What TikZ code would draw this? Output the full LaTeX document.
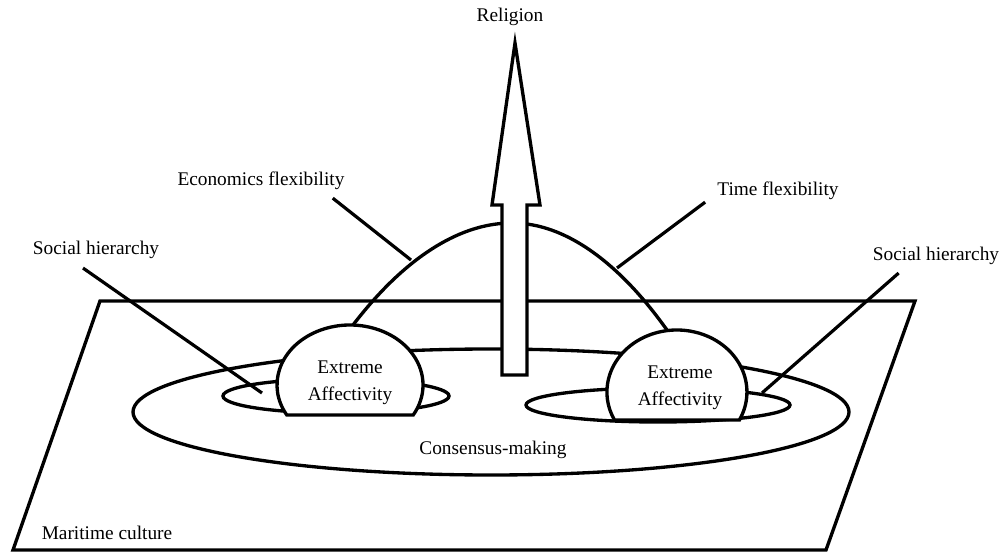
\documentclass[tikz,border=0pt]{standalone}
\usepackage{fontspec}
\setmainfont{Liberation Serif}
\definecolor{inkLine}{HTML}{000000}
\definecolor{paperWhite}{HTML}{FFFFFF}
\usepackage{tikz}
\usetikzlibrary{calc, positioning}

\tikzset{
  outline/.style={draw=inkLine, line width=2.5pt},
  pointer/.style={draw=inkLine, line width=2.4pt},
  labelText/.style={font=\fontsize{14.5}{17}\selectfont, text=inkLine, inner sep=0pt},
  domeText/.style={font=\fontsize{14.5}{20}\selectfont, text=inkLine, inner sep=0pt, align=center}
}

\begin{document}
\begin{tikzpicture}[x=0.75pt, y=-0.75pt]
  \useasboundingbox[fill=paperWhite] (0,0) rectangle (1007,552);

  % ground plane and rings
  \draw[outline, line join=miter] (100,301) -- (915,301) -- (826,550) -- (13,550) -- cycle;
  \draw[outline] (491,412) ellipse[x radius=358, y radius=63];
  \draw[outline] (336,396) ellipse[x radius=113, y radius=17];
  \draw[outline] (658,405) ellipse[x radius=132, y radius=17];

  % labels
  \node[labelText] (religion) at (510,17) {Religion};
  \node[labelText] (econFlex) at (261,181) {Economics flexibility};
  \node[labelText] (timeFlex) at (778,191) {Time flexibility};
  \node[labelText] (socialLeft) at (96,250) {Social hierarchy};
  \node[labelText] (socialRight) at (936,256) {Social hierarchy};
  \node[labelText] (consensus) at (493,450) {Consensus-making};
  \node[labelText] (maritime) at (107,533) {Maritime culture};

  \coordinate (socialLeftTip) at (262,393);
  \coordinate (econTip) at (411,260);
  \coordinate (timeTip) at (617,268);
  \coordinate (socialRightTip) at (762,393);

  \draw[pointer] ($(socialLeft.south)+(-13,9)$) -- (socialLeftTip);
  \draw[pointer] ($(econFlex.south east)+(-12,8)$) -- (econTip);
  \draw[pointer] ($(timeFlex.south west)+(-12,2)$) -- (timeTip);
  \draw[pointer] ($(socialRight.south west)+(26,8)$) -- (socialRightTip);

  % arch over the two domes
  \draw[outline] (353,325) parabola bend (512,223) (667,330);

  % domes
  \draw[outline, fill=paperWhite] (286.8,415) arc[start angle=150, end angle=390, x radius=73, y radius=60] -- cycle;
  \draw[outline, fill=paperWhite] (614.5,420) arc[start angle=153.15, end angle=386.85, x radius=70, y radius=62] -- cycle;
  \node[domeText] (affectLeft) at (350,383) {Extreme\\Affectivity};
  \node[domeText] (affectRight) at (680,388) {Extreme\\Affectivity};

  % arrow up to religion
  \draw[outline, fill=paperWhite, line join=miter] (502,375) -- (502,205) -- (492,205) -- (515,43)
    -- (540,205) -- (527,205) -- (527,375) -- cycle;
\end{tikzpicture}
\end{document}
